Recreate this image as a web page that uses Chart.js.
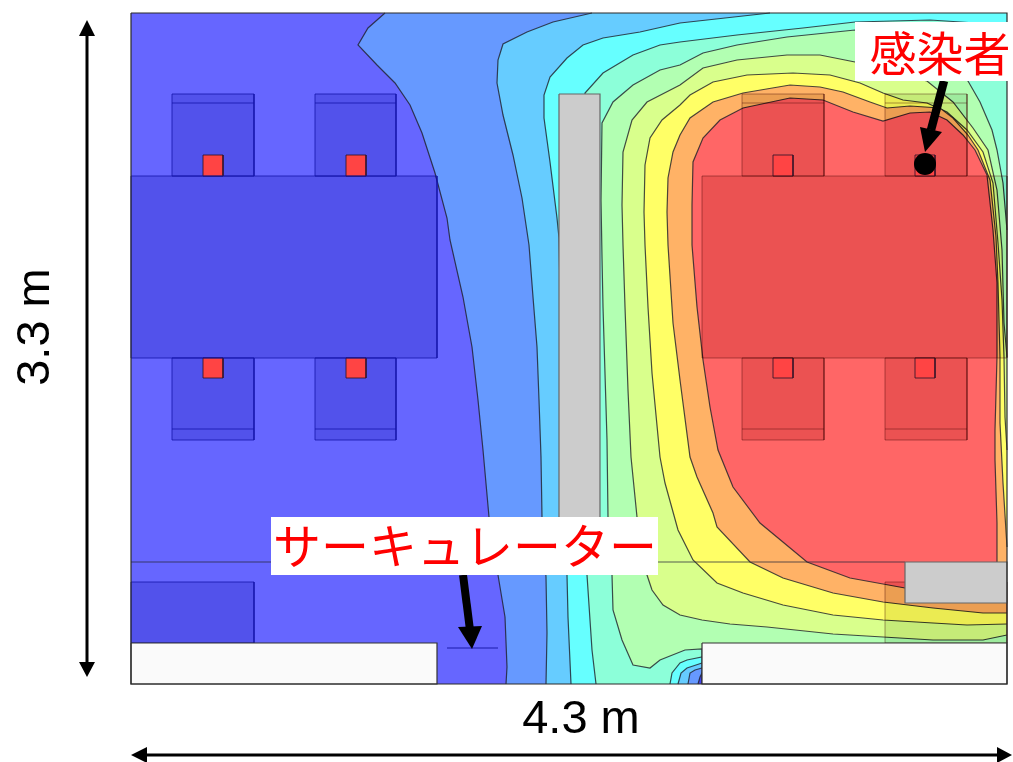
<!DOCTYPE html>
<html>
<head>
<meta charset="utf-8">
<title>感染者 サーキュレーター</title>
<script src="https://cdn.jsdelivr.net/npm/chart.js@4/dist/chart.umd.js"></script>
<style>
  html, body { margin: 0; padding: 0; background: #fff; }
  canvas { display: block; }
</style>
</head>
<body>
<canvas id="mycanvas" width="1013" height="762"></canvas>
<script>
// room plan units, origin at the top left room corner, room is 876 x 671 (4.3 m x 3.3 m)
var level1 = [[254,0],[237,15],[227,32],[246,52],[264,70],[279,92],[291,120],[304,160],[316,205],[319,227],[332,284],[341,334],[347,387],[352,437],[358,504],[367,562],[374,604],[376,654],[375,671]];
var level2 = [[461,0],[422,9],[396,19],[372,31],[367,47],[366,70],[372,102],[382,142],[391,185],[398,232],[402,284],[406,334],[408,387],[410,444],[411,504],[415,564],[416,620],[415,671]];
var level3 = [[639,0],[549,10],[509,19],[472,25],[452,32],[436,45],[419,64],[413,82],[413,105],[419,149],[426,205],[428,225],[431,387],[434,504],[436,562],[437,604],[440,671]];
var level4 = [[876,12],[799,7],[724,9],[672,15],[606,22],[549,29],[529,32],[502,42],[472,60],[454,80],[449,287],[454,504],[456,562],[461,637],[465,671]];
var level5 = [[876,217],[872,170],[866,137],[861,117],[849,89],[837,68],[799,32],[724,17],[656,24],[606,32],[572,40],[549,52],[529,57],[502,72],[482,89],[471,110],[470,187],[471,244],[472,294],[476,427],[477,504],[481,562],[482,597],[491,627],[502,652],[519,655],[529,647],[554,637],[571,636],[571,671]];
var level6 = [[876,344],[873,310],[871,237],[866,177],[857,137],[842,115],[822,89],[796,68],[749,57],[724,49],[689,42],[656,42],[606,47],[572,55],[549,72],[516,89],[501,107],[492,139],[491,192],[492,232],[494,294],[497,377],[500,444],[506,504],[516,562],[521,577],[532,592],[549,602],[571,607],[599,611],[636,614],[702,621],[752,624],[802,627],[852,627],[876,622]];
var level7 = [[876,437],[874,404],[873,344],[871,287],[867,230],[862,170],[852,139],[836,117],[816,99],[796,90],[772,87],[752,80],[729,70],[699,62],[662,60],[616,62],[582,69],[559,82],[549,92],[531,107],[519,125],[514,152],[513,199],[514,232],[517,294],[521,360],[529,444],[534,470],[547,517],[562,547],[586,570],[612,580],[652,592],[702,602],[752,607],[802,610],[836,612],[876,611]];
var level8 = [[876,534],[872,470],[869,410],[869,344],[867,270],[865,224],[859,167],[847,137],[837,122],[822,105],[809,95],[779,93],[756,95],[739,89],[712,79],[689,74],[659,72],[612,80],[582,89],[559,105],[549,122],[542,139],[537,165],[536,199],[537,232],[542,310],[549,367],[559,444],[566,464],[582,500],[586,514],[619,549],[652,565],[702,580],[752,589],[802,595],[852,600],[876,600]];
var level9 = [[866,549],[866,510],[864,447],[864,417],[866,344],[866,270],[862,217],[856,162],[844,137],[832,122],[816,107],[799,99],[779,100],[752,108],[722,99],[692,87],[659,85],[612,95],[589,107],[572,125],[562,149],[561,192],[561,232],[566,294],[572,347],[579,394],[587,437],[602,474],[629,510],[676,549],[719,565],[774,575],[829,577]];

// low pocket next to the right hand wall
var cornerA = [[539,671],[541,660],[549,650],[556,647],[571,644],[571,671]];
var cornerB = [[547,671],[550,660],[556,655],[571,650],[571,671]];
var cornerC = [[557,671],[559,660],[564,657],[571,655],[571,671]];
var cornerD = [[567,671],[569,664],[571,660],[571,671]];

var infected = [[794,151]];

var BLUE0 = '#6666ff';
var bandColors = ['#6699ff', '#66ccff', '#66ffff', '#8cffd9', '#b2ffb2', '#d9ff8c', '#ffff66', '#ffb266', '#ff6666'];

var sets = [];

function pts(list) {
  return list.map(function (p) { return { x: p[0], y: p[1] }; });
}

function shape(list, fillColor, lineColor, lineWidth) {
  var ds = {
    data: pts(list),
    showLine: true,
    fill: fillColor ? 'shape' : false,
    backgroundColor: fillColor || 'transparent',
    borderColor: lineColor || 'transparent',
    borderWidth: lineWidth === undefined ? 1 : lineWidth,
    pointRadius: 0,
    tension: 0,
    clip: false
  };
  sets.push(ds);
  return ds;
}

function box(x0, y0, x1, y1, fillColor, lineColor, lineWidth) {
  return shape([[x0,y0],[x1,y0],[x1,y1],[x0,y1],[x0,y0]], fillColor, lineColor, lineWidth);
}

// seats and tables darken whatever is below them by a fixed amount
function tintBox(x0, y0, x1, y1, lineColor) {
  box(x0, y0, x1, y1, TINT, lineColor).tint = true;
}

// how each band polygon runs back along the walls
function closing(lv) {
  if (lv === level9) return [[866, 575]];
  if (lv === level1 || lv === level2 || lv === level3) return [[876, 671], [876, 0]];
  return [[876, 671]];
}

// contour bands, outermost first
var CONTOUR = 'rgba(30,30,40,0.8)';
box(0, 0, 876, 671, BLUE0, null, 0);
[level1, level2, level3, level4, level5, level6, level7, level8, level9].forEach(function (lv, i) {
  shape(lv.concat(closing(lv)), bandColors[i], null, 0);
  shape(lv, null, CONTOUR, 1.2);
});

shape(cornerA, bandColors[2], CONTOUR, 1.2);
shape(cornerB, bandColors[1], CONTOUR, 1.2);
shape(cornerC, bandColors[0], CONTOUR, 1.2);
shape(cornerD, '#4444ee', CONTOUR, 1.2);

// seats and tables
var TINT = '#141414';
var COOL_LINE = 'rgba(20,20,170,0.8)';
var WARM_LINE = 'rgba(60,0,0,0.4)';
var SQUARE = '#ff4444', SQUARE_LINE = 'rgba(50,20,40,0.85)';

function seat(x0, x1, top, edge) {
  if (top) {
    tintBox(x0, 81, x1, 163, edge);
    shape([[x0,90],[x1,90]], null, edge, 1);
  } else {
    tintBox(x0, 345, x1, 427, edge);
    shape([[x0,416],[x1,416]], null, edge, 1);
  }
}
seat(41, 123, true, COOL_LINE);
seat(184, 265, true, COOL_LINE);
seat(41, 123, false, COOL_LINE);
seat(184, 265, false, COOL_LINE);
seat(611, 693, true, WARM_LINE);
seat(754, 836, true, WARM_LINE);
seat(611, 693, false, WARM_LINE);
seat(754, 836, false, WARM_LINE);

tintBox(0, 569, 123, 630, COOL_LINE);
tintBox(754, 569, 876, 630, WARM_LINE);

[72, 215, 642, 784].forEach(function (x) {
  box(x, 142, x + 20, 163, SQUARE, SQUARE_LINE);
  box(x, 345, x + 20, 365, SQUARE, SQUARE_LINE);
});

tintBox(0, 163, 306, 345, COOL_LINE);
tintBox(571, 163, 876, 345, WARM_LINE);

// partition, duct line, ceiling unit, walls
shape([[0,549],[774,549]], null, 'rgba(40,40,60,0.75)', 1.2);
box(428, 81, 469, 508, '#cccccc', '#666666', 1.2);
box(774, 549, 876, 590, '#cccccc', '#666666', 1.2);
shape([[316,635],[367,635]], null, '#1a1aaa', 1);
box(0, 630, 306, 671, '#fafafa', '#333333', 1.2);
box(571, 630, 876, 671, '#fafafa', '#333333', 1.2);
box(0, 0, 876, 671, null, '#2a2a2a', 1.2);

// pointers
shape([[813,68],[800,117]], null, '#000', 8.5);
shape([[789,114],[811,119],[794,139]], '#000');
shape([[332,562],[339,617]], null, '#000', 8);
shape([[327,614],[351,613],[341,636]], '#000');

sets.push({
  data: pts(infected),
  pointRadius: 11,
  pointBackgroundColor: '#000',
  pointBorderWidth: 0,
  clip: false
});

// size arrows
shape([[-44,20],[-44,652]], null, '#000', 3);
shape([[-44,7],[-52,23],[-36,23]], '#000');
shape([[-44,664],[-52,649],[-36,649]], '#000');
shape([[12,742],[870,742]], null, '#000', 3);
shape([[0,742],[16,734],[16,750]], '#000');
shape([[881,742],[866,734],[866,750]], '#000');

// label backings
box(724, 9, 882, 68, '#ffffff', null, 0);
box(140, 504, 527, 562, '#ffffff', null, 0);

// datasets get drawn from the last index down, and the filler runs first in
// beforeDatasetDraw, so the blend for a tinted fill has to be set one step early
var tintBlend = {
  id: 'tintBlend',
  beforeDatasetDraw: function (chart) {
    chart.ctx.globalCompositeOperation = 'source-over';
  },
  afterDatasetDraw: function (chart, args) {
    var next = chart.data.datasets[args.index - 1];
    chart.ctx.globalCompositeOperation = next && next.tint ? 'difference' : 'source-over';
  }
};

var textLabels = {
  id: 'textLabels',
  afterDatasetsDraw: function (chart) {
    var c = chart.ctx, sx = chart.scales.x, sy = chart.scales.y;
    c.save();
    c.textAlign = 'center';
    c.textBaseline = 'middle';
    c.fillStyle = '#ff0000';
    c.font = '47px "Noto Sans CJK JP"';
    c.fillText('感染者', sx.getPixelForValue(809), sy.getPixelForValue(40));
    c.font = '48px "Noto Sans CJK JP"';
    c.fillText('サーキュレーター', sx.getPixelForValue(334), sy.getPixelForValue(533));
    c.fillStyle = '#000';
    c.font = '47px "Liberation Sans"';
    c.fillText('4.3 m', sx.getPixelForValue(450), sy.getPixelForValue(707));
    c.translate(sx.getPixelForValue(-95), sy.getPixelForValue(314));
    c.rotate(-Math.PI / 2);
    c.fillText('3.3 m', 0, 0);
    c.restore();
  }
};

// first dataset is drawn on top, so flip the paint order
new Chart(document.getElementById('mycanvas'), {
  type: 'scatter',
  data: { datasets: sets.slice().reverse() },
  options: {
    responsive: false,
    animation: false,
    layout: { padding: 0, autoPadding: false },
    plugins: { legend: { display: false }, tooltip: { enabled: false } },
    scales: {
      x: { type: 'linear', display: false, min: -131, max: 882 },
      y: { type: 'linear', display: false, reverse: true, min: -13, max: 749 }
    }
  },
  plugins: [tintBlend, textLabels]
});
</script>
</body>
</html>
